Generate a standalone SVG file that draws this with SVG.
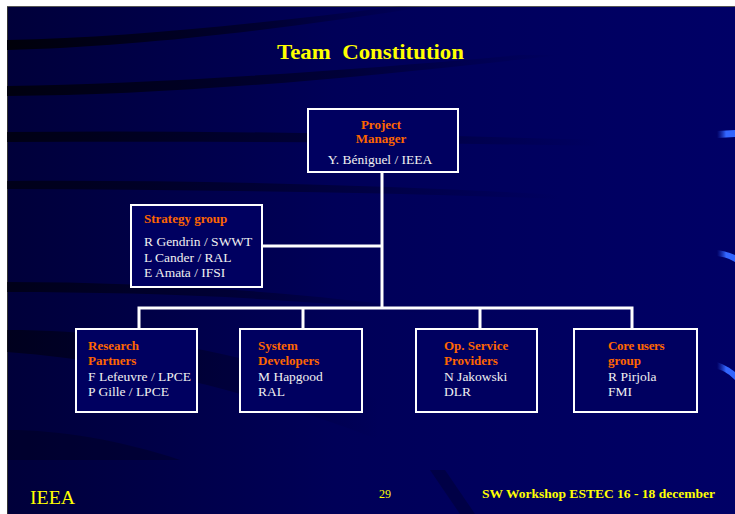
<svg xmlns="http://www.w3.org/2000/svg" width="735" height="514" viewBox="0 0 735 514">
<defs>
<linearGradient id="bg" x1="0" y1="0" x2="1" y2="0">
<stop offset="0" stop-color="#00003a"/>
<stop offset="0.45" stop-color="#000058"/>
<stop offset="1" stop-color="#000066"/>
</linearGradient>
<linearGradient id="band" x1="0" y1="0" x2="1" y2="0">
<stop offset="0" stop-color="#000008" stop-opacity="0.95"/>
<stop offset="0.6" stop-color="#000010" stop-opacity="0.5"/>
<stop offset="1" stop-color="#000020" stop-opacity="0"/>
</linearGradient>
<linearGradient id="streak" x1="0" y1="0" x2="1" y2="0">
<stop offset="0" stop-color="#2244cc" stop-opacity="0"/>
<stop offset="0.5" stop-color="#3366ff"/>
<stop offset="1" stop-color="#3366ff"/>
</linearGradient>
<style>
.box{fill:#000060;stroke:#ffffff;stroke-width:2}
.hd{font-family:"Liberation Serif","Times New Roman",serif;font-weight:bold;font-size:13px;fill:#ff6600}
.tx{font-family:"Liberation Serif","Times New Roman",serif;font-size:13.5px;fill:#f0f0f0}
.ln{stroke:#ffffff;stroke-width:3;fill:none}
.yel{font-family:"Liberation Serif","Times New Roman",serif;fill:#ffff00}
</style>
</defs>
<rect x="0" y="0" width="735" height="514" fill="#ffffff"/>
<rect x="7" y="6" width="728" height="508" fill="url(#bg)"/>
<line x1="7.5" y1="6" x2="7.5" y2="514" stroke="#333333" stroke-width="1"/>
<line x1="7" y1="6.5" x2="735" y2="6.5" stroke="#555555" stroke-width="1"/>
<g id="background">
<path d="M7,40 C120,38 250,25 400,6 L430,6 C280,30 130,47 7,50 Z" fill="url(#band)"/>
<path d="M7,86 C150,84 330,72 520,55 L560,55 C360,78 170,95 7,96 Z" fill="url(#band)" opacity="0.9"/>
<path d="M7,132 C200,130 400,134 600,140 L600,146 C400,142 200,141 7,142 Z" fill="url(#band)" opacity="0.8"/>
<path d="M7,181 C200,180 380,185 560,195 L560,199 C380,192 200,190 7,189 Z" fill="url(#band)" opacity="0.7"/>
<path d="M7,282 C150,282 300,292 430,310 L430,314 C300,298 150,292 7,292 Z" fill="url(#band)" opacity="0.7"/>
<path d="M7,330 C120,330 240,350 380,400 L380,440 C250,390 120,360 7,352 Z" fill="url(#band)" opacity="0.6"/>
<path d="M7,430 C60,430 120,440 180,460 L7,460 Z" fill="#000010" opacity="0.3"/>
<path d="M430,470 L445,470 L475,514 L460,514 Z" fill="#000030" opacity="0.5"/>
<path d="M717,131 L735,130 L735,137 L717,138 Z" fill="url(#streak)"/>
<path d="M717,250 C725,251 730,253 735,255 L735,262 C730,259 725,257 717,256 Z" fill="url(#streak)"/>
<path d="M717,362 C725,365 730,368 735,372 L735,380 C730,375 725,371 717,369 Z" fill="url(#streak)"/>
</g>
<text class="yel" x="277" y="59" font-size="21" font-weight="bold" textLength="187" lengthAdjust="spacingAndGlyphs" xml:space="preserve">Team  Constitution</text>
<g id="connectors">
<line class="ln" x1="382" y1="172" x2="382" y2="308"/>
<line class="ln" x1="262" y1="246" x2="382" y2="246"/>
<polyline class="ln" points="139,329 139,308 632,308 632,329"/>
<line class="ln" x1="303" y1="308" x2="303" y2="329"/>
<line class="ln" x1="480" y1="308" x2="480" y2="329"/>
</g>
<g id="project-manager">
<rect class="box" x="308" y="109" width="150" height="63"/>
<text class="hd" x="381" y="129" text-anchor="middle" font-size="12.5">Project</text>
<text class="hd" x="381" y="143" text-anchor="middle" font-size="12.5">Manager</text>
<text class="tx" x="380" y="164" text-anchor="middle">Y. Béniguel / IEEA</text>
</g>
<g id="strategy-group">
<rect class="box" x="131" y="205" width="131" height="82"/>
<text class="hd" x="144" y="223">Strategy group</text>
<text class="tx" x="144" y="246">R Gendrin / SWWT</text>
<text class="tx" x="144" y="262">L Cander / RAL</text>
<text class="tx" x="144" y="277">E Amata / IFSI</text>
</g>
<g id="research-partners">
<rect class="box" x="76" y="329" width="121" height="83"/>
<text class="hd" x="88" y="350">Research</text>
<text class="hd" x="88" y="365">Partners</text>
<text class="tx" x="88" y="381">F Lefeuvre / LPCE</text>
<text class="tx" x="88" y="396">P Gille / LPCE</text>
</g>
<g id="system-developers">
<rect class="box" x="240" y="329" width="122" height="83"/>
<text class="hd" x="258" y="350">System</text>
<text class="hd" x="258" y="365">Developers</text>
<text class="tx" x="258" y="381">M Hapgood</text>
<text class="tx" x="258" y="396">RAL</text>
</g>
<g id="op-service-providers">
<rect class="box" x="416" y="329" width="121" height="83"/>
<text class="hd" x="444" y="350">Op. Service</text>
<text class="hd" x="444" y="365">Providers</text>
<text class="tx" x="444" y="381">N Jakowski</text>
<text class="tx" x="444" y="396">DLR</text>
</g>
<g id="core-users-group">
<rect class="box" x="574" y="329" width="123" height="83"/>
<text class="hd" x="608" y="350" letter-spacing="-0.3">Core users</text>
<text class="hd" x="608" y="365">group</text>
<text class="tx" x="608" y="381">R  Pirjola</text>
<text class="tx" x="608" y="396">FMI</text>
</g>
<text class="yel" x="30" y="504" font-size="18" textLength="45" lengthAdjust="spacingAndGlyphs">IEEA</text>
<text class="yel" x="379" y="498" font-size="12">29</text>
<text class="yel" x="482" y="498" font-size="13" font-weight="bold" textLength="233" lengthAdjust="spacingAndGlyphs">SW Workshop ESTEC 16 - 18 december</text>
</svg>
